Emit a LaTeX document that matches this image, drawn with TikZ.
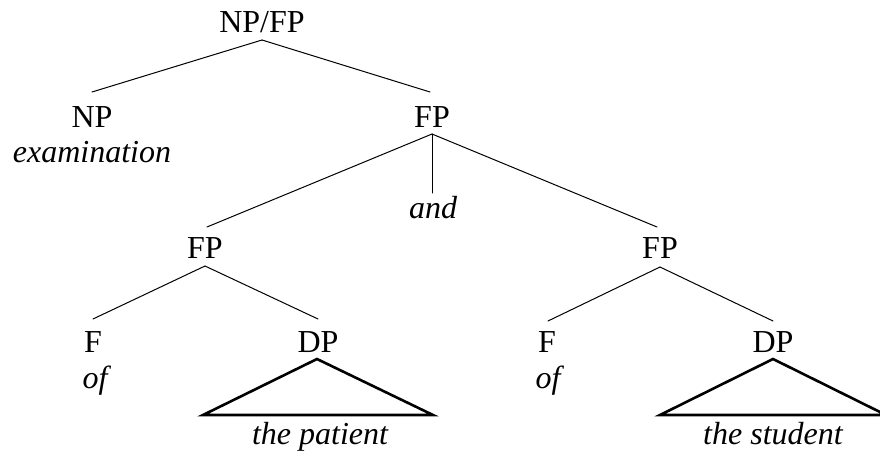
\documentclass[tikz,border=0pt]{standalone}
\usepackage{fontspec}
\setmainfont{Liberation Serif}
\usetikzlibrary{calc}
\begin{document}
\begin{tikzpicture}[x=1pt,y=-1pt,
  lab/.style={anchor=base,inner sep=0pt,font=\fontsize{32}{38}\selectfont},
  word/.style={lab,font=\fontsize{32}{38}\selectfont\itshape},
  branch/.style={line width=1pt,line cap=round},
  roof/.style={line width=2.6pt,line join=miter}]
\clip (0,0) rectangle (880,455);
\fill[white] (0,0) rectangle (880,455);
% nodes
\node[lab] (top) at (262,32) {NP/FP};
\node[lab] (np) at (92,127) {NP};
\node[word] (exam) at (92,162) {examination};
\node[lab] (fp) at (432,127) {FP};
\node[word] (and) at (433,218) {and};
\node[lab] (fpl) at (205,258) {FP};
\node[lab] (fpr) at (660,258) {FP};
\node[lab] (fl) at (93,352) {F};
\node[word] (ofl) at (95,388) {of};
\node[lab] (dpl) at (318,352) {DP};
\node[lab] (fr) at (547,352) {F};
\node[word] (ofr) at (548,388) {of};
\node[lab] (dpr) at (773,352) {DP};
\node[word] (patient) at (320,444) {the patient};
\node[word] (student) at (773,444) {the student};
% branches
\draw[branch] ($(top.base)+(0,8)$) -- ($(np.base)+(0,-35)$);
\draw[branch] ($(top.base)+(0,8)$) -- ($(fp.base)+(-2,-35)$);
\draw[branch] ($(fp.base)+(0,7)$) -- ($(and.base)+(-1,-25)$);
\draw[branch] ($(fp.base)+(0,7)$) -- ($(fpl.base)+(2,-31)$);
\draw[branch] ($(fp.base)+(0,7)$) -- ($(fpr.base)+(-3,-31)$);
\draw[branch] ($(fpl.base)+(0,8)$) -- ($(fl.base)+(0,-33)$);
\draw[branch] ($(fpl.base)+(0,8)$) -- ($(dpl.base)+(0,-33)$);
\draw[branch] ($(fpr.base)+(0,9)$) -- ($(fr.base)+(1,-31)$);
\draw[branch] ($(fpr.base)+(0,9)$) -- ($(dpr.base)+(0,-31)$);
% roofs
\draw[roof] ($(dpl.base)+(-1,7)$) -- ($(dpl.base)+(-115,63)$) -- ($(dpl.base)+(115,63)$) -- cycle;
\draw[roof] ($(dpr.base)+(0,7)$) -- ($(dpr.base)+(-113,63)$) -- ($(dpr.base)+(113,63)$) -- cycle;
\end{tikzpicture}
\end{document}
